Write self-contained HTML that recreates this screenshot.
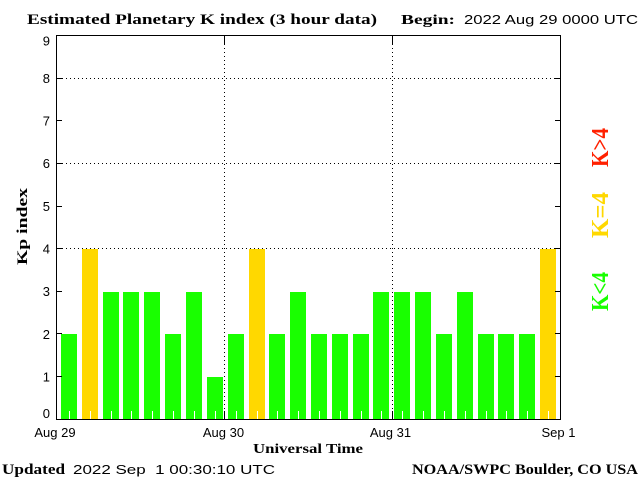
<!DOCTYPE html>
<html>
<head>
<meta charset="utf-8">
<style>
html,body{margin:0;padding:0;background:#fff;}
svg{display:block;}
.serb{font-family:"Liberation Serif",serif;font-weight:bold;}
.sans{font-family:"Liberation Sans",sans-serif;}
</style>
</head>
<body>
<svg width="640" height="480" viewBox="0 0 640 480" xmlns="http://www.w3.org/2000/svg" shape-rendering="crispEdges">
<rect x="0" y="0" width="640" height="480" fill="#fff"/>

<!-- Title -->
<text class="serb" x="27" y="24" font-size="15" textLength="350" lengthAdjust="spacingAndGlyphs">Estimated Planetary K index (3 hour data)</text>
<text class="serb" x="401" y="24" font-size="14" textLength="54" lengthAdjust="spacingAndGlyphs">Begin:</text>
<text class="sans" x="464" y="24" font-size="13" textLength="174" lengthAdjust="spacingAndGlyphs">2022 Aug 29 0000 UTC</text>

<!-- Grid dotted lines -->
<g stroke="#000" stroke-width="1" stroke-dasharray="1 3">
<line x1="58" y1="78.5" x2="560" y2="78.5"/>
<line x1="58" y1="163.5" x2="560" y2="163.5"/>
<line x1="58" y1="248.5" x2="560" y2="248.5"/>
<line x1="224.5" y1="44" x2="224.5" y2="411"/>
<line x1="392.5" y1="44" x2="392.5" y2="411"/>
</g>

<!-- Bars -->
<g id="bars">
<rect x="61" y="334" width="16" height="85" fill="#19ff00"/>
<rect x="82" y="249" width="16" height="170" fill="#ffd800"/>
<rect x="103" y="292" width="16" height="127" fill="#19ff00"/>
<rect x="123" y="292" width="16" height="127" fill="#19ff00"/>
<rect x="144" y="292" width="16" height="127" fill="#19ff00"/>
<rect x="165" y="334" width="16" height="85" fill="#19ff00"/>
<rect x="186" y="292" width="16" height="127" fill="#19ff00"/>
<rect x="207" y="377" width="16" height="42" fill="#19ff00"/>
<rect x="228" y="334" width="16" height="85" fill="#19ff00"/>
<rect x="249" y="249" width="16" height="170" fill="#ffd800"/>
<rect x="269" y="334" width="16" height="85" fill="#19ff00"/>
<rect x="290" y="292" width="16" height="127" fill="#19ff00"/>
<rect x="311" y="334" width="16" height="85" fill="#19ff00"/>
<rect x="332" y="334" width="16" height="85" fill="#19ff00"/>
<rect x="353" y="334" width="16" height="85" fill="#19ff00"/>
<rect x="373" y="292" width="16" height="127" fill="#19ff00"/>
<rect x="394" y="292" width="16" height="127" fill="#19ff00"/>
<rect x="415" y="292" width="16" height="127" fill="#19ff00"/>
<rect x="436" y="334" width="16" height="85" fill="#19ff00"/>
<rect x="457" y="292" width="16" height="127" fill="#19ff00"/>
<rect x="478" y="334" width="16" height="85" fill="#19ff00"/>
<rect x="498" y="334" width="16" height="85" fill="#19ff00"/>
<rect x="519" y="334" width="16" height="85" fill="#19ff00"/>
<rect x="540" y="249" width="16" height="170" fill="#ffd800"/>
</g>

<!-- white ticks inside bars -->
<g fill="#fff">
<rect x="69" y="411" width="1" height="8"/>
<rect x="90" y="411" width="1" height="8"/>
<rect x="111" y="411" width="1" height="8"/>
<rect x="131" y="411" width="1" height="8"/>
<rect x="152" y="411" width="1" height="8"/>
<rect x="173" y="411" width="1" height="8"/>
<rect x="194" y="411" width="1" height="8"/>
<rect x="215" y="411" width="1" height="8"/>
<rect x="236" y="411" width="1" height="8"/>
<rect x="257" y="411" width="1" height="8"/>
<rect x="277" y="411" width="1" height="8"/>
<rect x="298" y="411" width="1" height="8"/>
<rect x="319" y="411" width="1" height="8"/>
<rect x="340" y="411" width="1" height="8"/>
<rect x="361" y="411" width="1" height="8"/>
<rect x="381" y="411" width="1" height="8"/>
<rect x="402" y="411" width="1" height="8"/>
<rect x="423" y="411" width="1" height="8"/>
<rect x="444" y="411" width="1" height="8"/>
<rect x="465" y="411" width="1" height="8"/>
<rect x="486" y="411" width="1" height="8"/>
<rect x="506" y="411" width="1" height="8"/>
<rect x="527" y="411" width="1" height="8"/>
<rect x="548" y="411" width="1" height="8"/>
</g>

<!-- Axes box -->
<g fill="#000">
<rect x="56" y="35" width="505" height="1"/>
<rect x="56" y="419" width="505" height="1"/>
<rect x="56" y="35" width="1" height="385"/>
<rect x="560" y="35" width="1" height="385"/>
<!-- day ticks -->
<rect x="224" y="36" width="1" height="8"/>
<rect x="392" y="36" width="1" height="8"/>
<rect x="224" y="411" width="1" height="8"/>
<rect x="392" y="411" width="1" height="8"/>
<!-- left y ticks -->
<rect x="57" y="376" width="5" height="1"/>
<rect x="57" y="333" width="5" height="1"/>
<rect x="57" y="291" width="5" height="1"/>
<rect x="57" y="248" width="5" height="1"/>
<rect x="57" y="206" width="5" height="1"/>
<rect x="57" y="163" width="5" height="1"/>
<rect x="57" y="120" width="5" height="1"/>
<rect x="57" y="78" width="5" height="1"/>
<!-- right y ticks -->
<rect x="555" y="376" width="5" height="1"/>
<rect x="555" y="333" width="5" height="1"/>
<rect x="555" y="291" width="5" height="1"/>
<rect x="555" y="248" width="5" height="1"/>
<rect x="555" y="206" width="5" height="1"/>
<rect x="555" y="163" width="5" height="1"/>
<rect x="555" y="120" width="5" height="1"/>
<rect x="555" y="78" width="5" height="1"/>
</g>

<!-- Y labels -->
<g class="sans" font-size="13" text-anchor="end">
<text x="50" y="418">0</text>
<text x="50" y="381.5">1</text>
<text x="50" y="339">2</text>
<text x="50" y="296">3</text>
<text x="50" y="253.5">4</text>
<text x="50" y="211">5</text>
<text x="50" y="168">6</text>
<text x="50" y="125.5">7</text>
<text x="50" y="83">8</text>
<text x="50" y="45.5">9</text>
</g>

<text class="serb" font-size="15" transform="translate(27,265) rotate(-90)" textLength="77" lengthAdjust="spacingAndGlyphs">Kp index</text>

<!-- X labels -->
<g class="sans" font-size="13" text-anchor="middle">
<text x="55" y="437">Aug 29</text>
<text x="223.5" y="437">Aug 30</text>
<text x="390.5" y="437">Aug 31</text>
<text x="558.5" y="437">Sep 1</text>
</g>
<text class="serb" x="253" y="453" font-size="14" textLength="110" lengthAdjust="spacingAndGlyphs">Universal Time</text>

<!-- Footer -->
<text class="serb" x="2" y="474" font-size="15" textLength="63" lengthAdjust="spacingAndGlyphs">Updated</text>
<text class="sans" x="73" y="474" font-size="13" textLength="202" lengthAdjust="spacingAndGlyphs" xml:space="preserve">2022 Sep  1 00:30:10 UTC</text>
<text class="serb" x="412" y="474" font-size="15" textLength="226" lengthAdjust="spacingAndGlyphs">NOAA/SWPC Boulder, CO USA</text>

<!-- Legend -->
<text class="serb" font-size="24" fill="#ff2000" transform="translate(608,167) rotate(-90)" textLength="39" lengthAdjust="spacingAndGlyphs">K&gt;4</text>
<text class="serb" font-size="24" fill="#ffd800" transform="translate(608,238) rotate(-90)" textLength="46" lengthAdjust="spacingAndGlyphs">K=4</text>
<text class="serb" font-size="24" fill="#19ff00" transform="translate(608,311) rotate(-90)" textLength="39" lengthAdjust="spacingAndGlyphs">K&lt;4</text>
</svg>
</body>
</html>
